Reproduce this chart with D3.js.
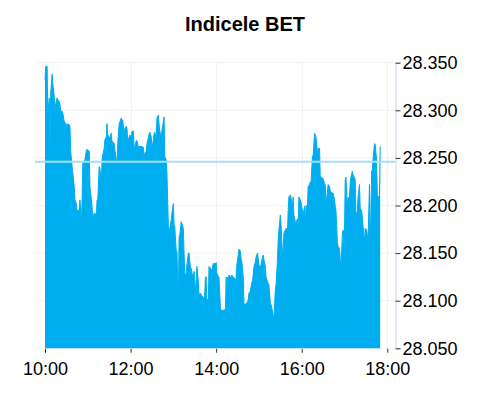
<!DOCTYPE html>
<html>
<head>
<meta charset="utf-8">
<script src="https://cdn.jsdelivr.net/npm/d3@7"></script>
<style>
  body { margin: 0; background: #fff; }
  text { font-family: "Liberation Sans", Arial, sans-serif; }
</style>
</head>
<body>
<div class="chart"></div>
<script>

const title = "Indicele BET"

// minutes after 10:00 for each quote
const minutes = [
  0,1,3,4,6,7,8,10,11,13,14,15,17,18,20,21,22,24,25,27,28,29,31,32,34,35,36,38,39,41,42,44,45,46,48,49,51,52,53,55,56,58,59,60,62,63,65,66,67,69,70,72,73,74,76,77,79,
  80,81,83,84,86,87,88,90,91,93,94,95,97,98,100,101,102,104,105,107,108,109,111,112,114,115,116,118,119,121,122,124,125,126,128,129,131,132,133,135,136,138,139,140,142,143,145,146,147,149,150,152,153,154,156,157,159,
  160,161,163,164,166,167,168,170,171,173,174,175,177,178,180,181,182,184,185,187,188,189,191,192,194,195,196,198,199,201,202,204,205,206,208,209,211,212,213,215,216,218,219,220,222,223,225,226,227,229,230,232,233,234,236,237,239,
  240,241,243,244,246,247,248,250,251,253,254,255,257,258,260,261,262,264,265,267,268,269,271,272,274,275,276,278,279,281,282,284,285,286,288,289,291,292,293,295,296,298,299,300,302,303,305,306,307,309,310,312,313,314,316,317,319,
  320,321,323,324,326,327,328,330,331,333,334,335,337,338,340,341,342,344,345,347,348,349,351,352,354,355,356,358,359,361,362,364,365,366,368,369,371,372,373,375,376,378,379,380,382,383,385,386,387,389,390,392,393,394,396,397,399,
  400,401,403,404,406,407,408,410,411,413,414,415,417,418,420,421,422,424,425,427,428,429,431,432,434,435,436,438,439,441,442,444,445,446,448,449,451,452,453,455,456,458,459,460,462,463,465,466,467,469,470
]

const values = [
  28332,28346,28346,28295,28313,28262,28318,28338,28328,28314,
  28297,28307,28313,28311,28309,28306,28299,28299,28297,28288,
  28288,28283,28286,28285,28285,28283,28257,28241,28234,28220,
  28206,28202,28192,28195,28195,28206,28181,28206,28244,28246,
  28248,28258,28259,28258,28257,28220,28206,28199,28185,28192,
  28192,28188,28206,28206,28241,28239,28222,28248,28253,28260,
  28269,28272,28286,28274,28272,28271,28276,28265,28267,28265,
  28258,28248,28241,28265,28286,28288,28292,28288,28290,28274,
  28281,28283,28281,28267,28272,28274,
  28272,28278,28278,28261,28262,28268,28268,28261,28262,28262,
  28262,28262,28261,28248,28255,28257,28265,28271,28275,28277,
  28272,28260,28269,28276,28277,28269,28292,28295,28285,28278,
  28271,28279,28288,28293,28251,28248,28234,28178,28171,28176,
  28185,28192,28202,28180,28178,28152,28152,28097,28167,28169,
  28183,28181,28176,28150,28127,28129,28138,28150,28150,28134,
  28134,28129,28125,28131,28108,28122,28136,28120,28106,28108,
  28106,28105,28104,28090,28125,28125,28101,28101,28136,28134,
  28132,28132,28139,28139,28139,
  28140,28129,28125,28125,28092,28090,28090,28090,28090,28091,
  28125,28124,28124,28127,28125,28125,28127,28125,28124,28122,
  28124,28138,28148,28154,28152,28144,28141,28125,28097,28096,
  28097,28099,28101,28108,28110,28115,28122,28127,28136,28141,
  28146,28150,28144,28138,28134,28138,28146,28148,28143,28136,
  28125,28120,28118,28117,28097,28096,28089,28084,28082,28111,
  28117,28143,28164,28174,28190,28181,28146,28155,28171,28174,
  28176,28173,28195,28209,28211,28208,28199,28209,28190,28183,
  28181,28186,28178,28209,28206,
  28204,28194,28190,28199,28180,28200,28199,28220,28222,28225,
  28223,28251,28253,28276,28274,28272,28255,28260,28260,28229,
  28230,28229,28228,28223,28222,28202,28214,28222,28220,28216,
  28214,28213,28213,28206,28199,28195,28162,28157,28155,28144,
  28132,28171,28174,28173,28227,28230,28199,28208,28209,28223,
  28230,28236,28232,28229,28227,28192,28192,28209,28222,28197,
  28195,28188,28178,28162,28176,28174,28169,28164,28222,28148,
  28236,28237,28248,28265,28264,28248,28211,28209,28210,28262
]

const previousClose = 28246
const yTicks = [28050, 28100, 28150, 28200, 28250, 28300, 28350]
const xTickHours = [10, 12, 14, 16, 18]

const width = 492
const height = 400
const plot = {left: 35, right: 395, top: 62.7, bottom: 348.3}

const day = new Date(2024, 0, 15, 10, 0)
const at = m => new Date(day.getTime() + m * 60000)
const hour = h => new Date(2024, 0, 15, h, 0)

const data = minutes.map((m, i) => ({t: at(m), v: values[i]}))

const ro = d3.formatLocale({decimal: ",", thousands: ".", grouping: [3], currency: ["", " lei"]})
const fmt = ro.format(",.0f")

const svg = d3.select(".chart")
    .append("svg")
    .attr("width", width)
    .attr("height", height)

const xScale = d3.scaleTime()
    .domain([hour(10), hour(18)])
    .range([45, 387.3])

const yScale = d3.scaleLinear()
    .domain([28050, 28350])
    .range([plot.bottom, plot.top])

// grid
svg.append("g")
    .selectAll("line")
    .data(yTicks)
    .join("line")
    .attr("x1", plot.left)
    .attr("x2", plot.right)
    .attr("y1", d => yScale(d))
    .attr("y2", d => yScale(d))
    .attr("stroke", "#f2f2f2")
    .attr("stroke-width", 1)

svg.append("g")
    .selectAll("line")
    .data(xTickHours)
    .join("line")
    .attr("x1", d => Math.round(xScale(hour(d))) + 0.5)
    .attr("x2", d => Math.round(xScale(hour(d))) + 0.5)
    .attr("y1", plot.top)
    .attr("y2", plot.bottom)
    .attr("stroke", "#f2f2f2")
    .attr("stroke-width", 1)

const area = d3.area()
    .x(d => xScale(d.t))
    .y0(yScale(28050))
    .y1(d => yScale(d.v))

svg.append("path")
    .datum(data)
    .attr("d", area)
    .attr("fill", "#00aeef")

svg.append("path")
    .datum(data)
    .attr("d", d3.line().x(d => xScale(d.t)).y(d => yScale(d.v)))
    .attr("fill", "none")
    .attr("stroke", "#00aeef")
    .attr("stroke-width", 1)

// previous close
svg.append("line")
    .attr("x1", plot.left)
    .attr("x2", plot.right)
    .attr("y1", yScale(previousClose))
    .attr("y2", yScale(previousClose))
    .attr("stroke", "#a9ddf4")
    .attr("stroke-width", 2)

// y axis on the right
const yAxis = d3.axisRight(yScale)
    .tickValues(yTicks)
    .tickSize(5)
    .tickPadding(2)
    .tickFormat(fmt)

const gy = svg.append("g")
    .attr("class", "axis y-axis")
    .attr("transform", `translate(${plot.right + 0.5}, 0)`)
    .call(yAxis)

gy.select(".domain").attr("stroke", "#ccd6eb")
gy.selectAll(".tick line").attr("stroke", "#333")
gy.selectAll(".tick text")
    .attr("font-size", 18)
    .attr("fill", "#000")
    .attr("font-family", "Liberation Sans, Arial, sans-serif")

// x axis
const xAxis = d3.axisBottom(xScale)
    .tickValues(xTickHours.map(hour))
    .tickSize(4)
    .tickPadding(9)
    .tickFormat(d3.timeFormat("%H:%M"))

const gx = svg.append("g")
    .attr("class", "axis x-axis")
    .attr("transform", `translate(0, ${plot.bottom + 0.5})`)
    .call(xAxis)

gx.select(".domain").remove()
gx.selectAll(".tick line").attr("stroke", "#333")
gx.selectAll(".tick text")
    .attr("font-size", 18)
    .attr("fill", "#000")
    .attr("font-family", "Liberation Sans, Arial, sans-serif")

svg.append("text")
    .attr("x", 245)
    .attr("y", 31)
    .attr("text-anchor", "middle")
    .attr("font-size", 20)
    .attr("font-weight", "bold")
    .attr("fill", "#000")
    .text(title)

</script>
</body>
</html>
